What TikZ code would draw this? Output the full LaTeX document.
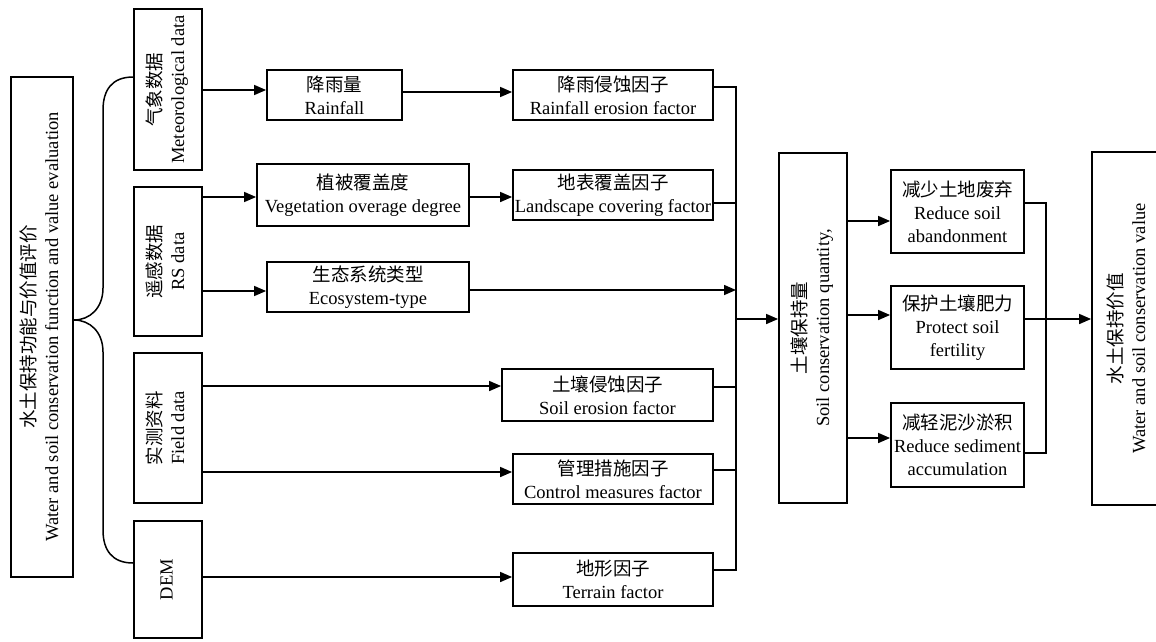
\documentclass[tikz,border=0pt]{standalone}
\usepackage{fontspec}
\setmainfont{Liberation Serif}
\newfontfamily\cjkfont{Noto Sans CJK SC}
\usetikzlibrary{arrows.meta}
\newcommand\zhtxt[1]{{\cjkfont #1}}
\newcommand\vtext[1]{\rotatebox{90}{\begin{tabular}{@{}c@{}}#1\end{tabular}}}
\begin{document}
\begin{tikzpicture}[x=1pt,y=-1pt,
  box/.style={draw, line width=1.8pt, inner sep=0pt, align=center, font=\fontsize{18.5}{23}\selectfont},
  ln/.style={line width=1.5pt},
  arr/.style={ln, -{Triangle[length=12pt,width=10pt]}}]
\useasboundingbox (0,0) rectangle (1156,641);
% left column
\node[box, minimum width=62, minimum height=500] (main) at (42,327)
  {\vtext{\zhtxt{水土保持功能与价值评价}\\Water and soil conservation function and value evaluation}};
\node[box, minimum width=68, minimum height=161] (met) at (168,89.5)
  {\vtext{\zhtxt{气象数据}\\Meteorological data}};
\node[box, minimum width=68, minimum height=149] (rs) at (168,261.5)
  {\vtext{\zhtxt{遥感数据}\\RS data}};
\node[box, minimum width=68, minimum height=150] (field) at (168,428)
  {\vtext{\zhtxt{实测资料}\\Field data}};
\node[box, minimum width=68, minimum height=117] (dem) at (168,579.5)
  {\vtext{DEM}};
% second column
\node[box, minimum width=135, minimum height=50] (rain) at (334.5,95) {\zhtxt{降雨量}\\Rainfall};
\node[box, minimum width=212, minimum height=62] (veg) at (363,195) {\zhtxt{植被覆盖度}\\Vegetation overage degree};
\node[box, minimum width=202, minimum height=50] (eco) at (368,287) {\zhtxt{生态系统类型}\\Ecosystem-type};
% third column
\node[box, minimum width=200, minimum height=50] (rfac) at (613,95) {\zhtxt{降雨侵蚀因子}\\Rainfall erosion factor};
\node[box, minimum width=200, minimum height=50] (land) at (613,195) {\zhtxt{地表覆盖因子}\\Landscape covering factor};
\node[box, minimum width=211, minimum height=52] (soile) at (607.5,395) {\zhtxt{土壤侵蚀因子}\\Soil erosion factor};
\node[box, minimum width=200, minimum height=50] (ctrl) at (613,479) {\zhtxt{管理措施因子}\\Control measures factor};
\node[box, minimum width=200, minimum height=53] (terr) at (613,579.5) {\zhtxt{地形因子}\\Terrain factor};
% right part
\node[box, minimum width=68, minimum height=350] (soilq) at (813,328)
  {\vtext{\zhtxt{土壤保持量}\\Soil conservation quantity,}};
\node[box, minimum width=133, minimum height=83] (r1) at (957.5,211.5) {\zhtxt{减少土地废弃}\\Reduce soil\\abandonment};
\node[box, minimum width=133, minimum height=83] (r2) at (957.5,327.5) {\zhtxt{保护土壤肥力}\\Protect soil\\fertility};
\node[box, minimum width=133, minimum height=84] (r3) at (957.5,445) {\zhtxt{减轻泥沙淤积}\\Reduce sediment\\accumulation};
\node[box, minimum width=74, minimum height=353] (value) at (1129,328.5)
  {\vtext{\zhtxt{水土保持价值}\\Water and soil conservation value}};
% brace
\draw[ln] (met.west |- 0,77) .. controls (112,77) and (103,90) .. (103,110) -- (103,288)
  .. controls (103,308) and (90,320) .. (main.east |- 0,320)
  .. controls (90,320) and (103,332) .. (103,352) -- (103,530)
  .. controls (103,550) and (112,563) .. (dem.west |- 0,563);
% connectors
\draw[arr] (met.east |- 0,90) -- (rain.west |- 0,90);
\draw[arr] (rain.east |- 0,92) -- (rfac.west |- 0,92);
\draw[arr] (rs.east |- 0,197) -- (veg.west |- 0,197);
\draw[arr] (veg.east |- 0,197) -- (land.west |- 0,197);
\draw[arr] (rs.east |- 0,291) -- (eco.west |- 0,291);
\coordinate (bus) at (736,319);
\draw[arr] (eco.east |- 0,290) -- (bus |- 0,290);
\draw[arr] (field.east |- 0,386) -- (soile.west |- 0,386);
\draw[arr] (field.east |- 0,472) -- (ctrl.west |- 0,472);
\draw[arr] (dem.east |- 0,577) -- (terr.west |- 0,577);
\draw[ln] (rfac.east |- 0,87) -- (bus |- 0,87) -- (bus |- 0,570) -- (terr.east |- 0,570);
\draw[ln] (land.east |- 0,203) -- (bus |- 0,203);
\draw[ln] (soile.east |- 0,387) -- (bus |- 0,387);
\draw[ln] (ctrl.east |- 0,470) -- (bus |- 0,470);
\draw[arr] (bus) -- (soilq.west |- bus);
\draw[arr] (soilq.east |- 0,221) -- (r1.west |- 0,221);
\draw[arr] (soilq.east |- 0,315) -- (r2.west |- 0,315);
\draw[arr] (soilq.east |- 0,438) -- (r3.west |- 0,438);
\coordinate (bus2) at (1046,319);
\draw[ln] (r1.east |- 0,203) -- (bus2 |- 0,203) -- (bus2 |- 0,453) -- (r3.east |- 0,453);
\draw[arr] (r2.east |- bus2) -- (value.west |- bus2);
\end{tikzpicture}
\end{document}
